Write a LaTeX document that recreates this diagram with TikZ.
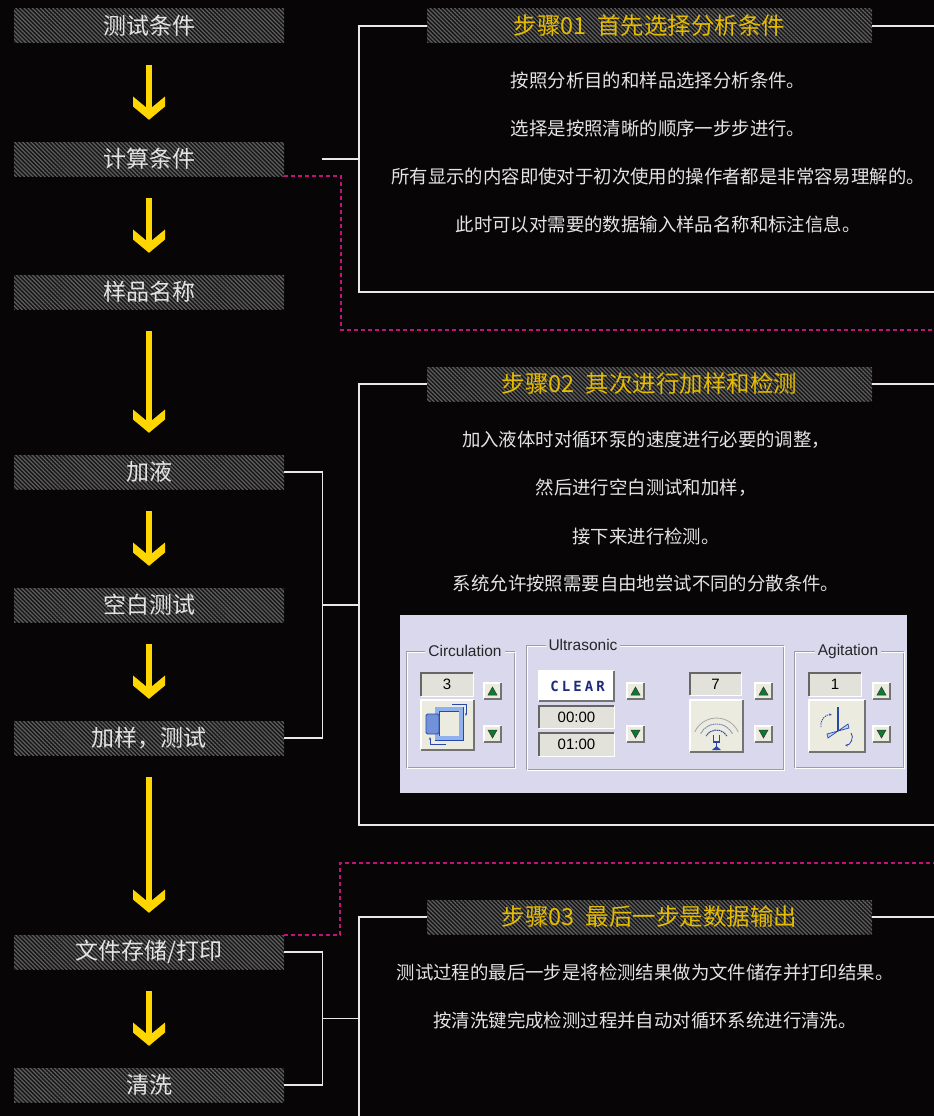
\documentclass[tikz,border=0pt]{standalone}
\usepackage{fontspec}
\setmainfont{Liberation Sans}
\newfontfamily\cjk{Noto Sans CJK SC}
\newfontfamily\clearfont[LetterSpace=22]{DejaVu Sans Mono}
\usetikzlibrary{patterns,patterns.meta,calc,arrows.meta}
\definecolor{bg}{HTML}{070506}
\definecolor{hatch}{HTML}{5E5E5E}
\definecolor{hatchbg}{HTML}{161616}
\definecolor{txt}{HTML}{E4E4E4}
\definecolor{gold}{HTML}{E6BC00}
\definecolor{arrowy}{HTML}{FFD600}
\definecolor{mag}{HTML}{C0137A}
\definecolor{wl}{HTML}{E8E8E8}
\definecolor{ui}{HTML}{D9D8EC}
\definecolor{fieldc}{HTML}{E2E1DA}
\definecolor{btnc}{HTML}{ECEBE0}
\definecolor{etch}{HTML}{9C9CA6}
\definecolor{tri}{HTML}{0C7A30}
\definecolor{icdark}{HTML}{2A47A8}
\definecolor{iclight}{HTML}{8FB2EE}
\definecolor{navy}{HTML}{1C2A7A}
\newcommand\uibtn[4]{%
  \fill[btnc] ({#1},{-(#2)}) rectangle ({#3},{-(#4)});
  \draw[white, line width=1.2pt] ({#1},{-(#4)}) -- ({#1},{-(#2)}) -- ({#3},{-(#2)});
  \draw[black!55, line width=1.2pt] ({#3},{-(#2)}) -- ({#3},{-(#4)}) -- ({#1},{-(#4)});}
\newcommand\uifield[6]{%
  \fill[fieldc] ({#1},{-(#2)}) rectangle ({#3},{-(#4)});
  \draw[black!60, line width=1.2pt] ({#1},{-(#4)}) -- ({#1},{-(#2)}) -- ({#3},{-(#2)});
  \draw[white, line width=1pt] ({#3},{-(#2)}) -- ({#3},{-(#4)}) -- ({#1},{-(#4)});
  \node[uitext] (#5) at ({(#1+#3)/2},{-(#2+#4)/2}) {#6};}
\newcommand\uiup[2]{%
  \uibtn{#1}{#2}{#1+17}{#2+16}
  \filldraw[tri, draw=black!80, line width=0.5pt] ({#1+8.5},{-(#2)-4}) -- ({#1+4},{-(#2)-12}) -- ({#1+13},{-(#2)-12}) -- cycle;}
\newcommand\uidown[2]{%
  \uibtn{#1}{#2}{#1+17}{#2+16}
  \filldraw[tri, draw=black!80, line width=0.5pt] ({#1+8.5},{-(#2)-12}) -- ({#1+4},{-(#2)-4}) -- ({#1+13},{-(#2)-4}) -- cycle;}
\newcommand\uigroup[7]{%
  \draw[etch, line width=1pt] ({#1},{-(#2)}) rectangle ({#3},{-(#4)});
  \draw[white, line width=1pt] ({#1+1},{-(#2)-1}) rectangle ({#3+1},{-(#4)-1});
  \node[uilabel] (#6) at ({#5},{-(#2)}) {#7};}
\newcommand\flowarrow[2]{%
  \coordinate (fs) at ($(#1.south)+(0,-22)$);
  \coordinate (fe) at ($(#2.north)+(0,22)$);
  \fill[arrowy] ($(fs)+(-2.9,0)$) rectangle ($(fe)+(2.9,5)$);
  \fill[arrowy] (fe) -- ++(-16,13.3) -- ++(0,10) -- ($(fe)+(0,10)$) -- ($(fe)+(16,23.3)$) -- ++(0,-10) -- cycle;}
\begin{document}
\begin{tikzpicture}[x=1pt,y=1pt,
  hatched/.style={inner sep=0pt, fill=hatchbg,
    postaction={pattern={Lines[angle=-45,distance=2.9pt,line width=1.25pt]}, pattern color=hatch}},
  leftbox/.style={hatched, minimum width=270pt, minimum height=34pt, text=txt,
    font=\cjk\fontsize{23}{23}\selectfont},
  banner/.style={hatched, minimum width=445pt, minimum height=34pt, text=gold,
    font=\cjk\fontsize{23.5}{24}\selectfont},
  body/.style={text=txt, inner sep=0pt, font=\cjk\fontsize{18.4}{20}\selectfont},
  wline/.style={draw=wl, line width=1.4pt},
  magdash/.style={draw=mag, line width=1.7pt, dash pattern=on 4pt off 3pt},
  uitext/.style={inner sep=0pt, text=black, font=\fontsize{15}{15}\selectfont},
  uilabel/.style={fill=ui, inner xsep=3pt, inner ysep=1pt, text=black!85, font=\fontsize{15.5}{15.5}\selectfont}]
\useasboundingbox (0,0) rectangle (934,-1116);
\fill[bg] (0,0) rectangle (934,-1116);
\clip (0,0) rectangle (934,-1116);

% left flow boxes
\node[leftbox] (n1) at (149,-26) {测试条件};
\node[leftbox] (n2) at (149,-159) {计算条件};
\node[leftbox] (n3) at (149,-292) {样品名称};
\node[leftbox] (n4) at (149,-472) {加液};
\node[leftbox] (n5) at (149,-605) {空白测试};
\node[leftbox] (n6) at (149,-738) {加样，测试};
\node[leftbox] (n7) at (149,-952) {文件存储/打印};
\node[leftbox] (n8) at (149,-1085) {清洗};

\flowarrow{n1}{n2}
\flowarrow{n2}{n3}
\flowarrow{n3}{n4}
\flowarrow{n4}{n5}
\flowarrow{n5}{n6}
\flowarrow{n6}{n7}
\flowarrow{n7}{n8}

% banners
\node[banner] (t1) at (649.5,-26) {步骤01\hspace{0.45em}首先选择分析条件};
\node[banner] (t2) at (649.5,-384) {步骤02\hspace{0.45em}其次进行加样和检测};
\node[banner] (t3) at (649.5,-917) {步骤03\hspace{0.45em}最后一步是数据输出};

% panel frames
\draw[wline] (t1.west) -- (359,-26) -- (359,-292) -- (940,-292);
\draw[wline] (t1.east) -- (940,-26);
\draw[wline] (t2.west) -- (359,-384) -- (359,-825) -- (940,-825);
\draw[wline] (t2.east) -- (940,-384);
\draw[wline] (t3.west) -- (359,-917) -- (359,-1125);
\draw[wline] (t3.east) -- (940,-917);

% connectors
\draw[wline] ([xshift=38pt]n2.east) -- ++(37,0);
\draw[wline] (n4.east) -- ++(38,0) |- (n6.east);
\draw[wline] ([xshift=38pt]n5.east) -- ++(37,0);
\draw[wline] (n7.east) -- ++(38,0) |- (n8.east);
\draw[wline] ($(n7.east)!0.5!(n8.east)+(38,0)$) -- ++(37,0);

\draw[magdash] (n2.south east) -- ++(57,0) |- (940,-330);
\draw[magdash] (n7.north east) -- ++(56,0) |- (940,-863);

% panel texts
\node[body] (p1a) at (658,-81) {按照分析目的和样品选择分析条件。};
\node[body] (p1b) at (658,-129) {选择是按照清晰的顺序一步步进行。};
\node[body] (p1c) at (658,-176) {所有显示的内容即使对于初次使用的操作者都是非常容易理解的。};
\node[body] (p1d) at (658,-224) {此时可以对需要的数据输入样品名称和标注信息。};

\node[body] (p2a) at (646,-440) {加入液体时对循环泵的速度进行必要的调整，};
\node[body] (p2b) at (646,-488) {然后进行空白测试和加样，};
\node[body] (p2c) at (646,-536) {接下来进行检测。};
\node[body] (p2d) at (646,-583) {系统允许按照需要自由地尝试不同的分散条件。};

\node[body] (p3a) at (645,-972) {测试过程的最后一步是将检测结果做为文件储存并打印结果。};
\node[body] (p3b) at (645,-1020) {按清洗键完成检测过程并自动对循环系统进行清洗。};

% control panel screenshot
\fill[ui] (400,-615) rectangle (907,-793);
\uigroup{406}{651}{514}{767}{465}{gc}{Circulation}
\uigroup{526}{645}{783}{769}{583}{gu}{Ultrasonic}
\uigroup{794}{651}{903}{767}{848}{ga}{Agitation}

% circulation
\uifield{421}{673}{473}{696}{fc}{3}
\uibtn{421}{700}{474}{750}
\draw[icdark, line width=0.9pt, double=iclight, double distance=3.2pt] (437,-709) rectangle (461,-738);
\filldraw[fill=iclight!70!icdark, draw=icdark, line width=0.8pt, rounded corners=1.5pt] (426,-714) rectangle (439,-734);
\draw[icdark, line width=0.8pt, -{Stealth[length=3pt]}] (452,-704) -- (466,-704) -- (466,-716);
\draw[icdark, line width=0.8pt, -{Stealth[length=3pt]}] (446,-744) -- (430,-744) -- (430,-737);
\uiup{484}{683}
\uidown{484}{726}

% ultrasonic
\uibtn{539}{671}{614}{701}
\fill[white] (540,-672) rectangle (613,-700);
\node[text=navy, inner sep=0pt, font=\clearfont\bfseries\fontsize{14}{14}\selectfont] (clr) at (577.5,-686) {CLEAR};
\uifield{539}{706}{614}{728}{ft1}{00:00}
\uifield{539}{733}{614}{756}{ft2}{01:00}
\uiup{627}{683}
\uidown{627}{726}
\uifield{690}{673}{741}{695}{fu}{7}
\uibtn{690}{700}{743}{752}
\draw[black!35, line width=0.8pt] (716.5,-742) ++(25:24) arc[start angle=25, end angle=155, radius=24];
\draw[icdark!70, line width=0.9pt, dash pattern=on 1.5pt off 0.7pt] (716.5,-742) ++(28:18) arc[start angle=28, end angle=152, radius=18];
\draw[icdark, line width=1pt, dash pattern=on 1.5pt off 0.7pt] (716.5,-742) ++(30:12) arc[start angle=30, end angle=150, radius=12];
\draw[icdark, line width=1.1pt] (713.5,-735) -- (713.5,-742) -- (719.5,-742) -- (719.5,-735);
\draw[icdark, line width=1.1pt] (716.5,-742) -- (716.5,-748);
\fill[icdark] (712,-750) -- (721,-750) -- (716.5,-746) -- cycle;
\uiup{755}{683}
\uidown{755}{726}

% agitation
\uifield{809}{673}{861}{696}{fa}{1}
\uibtn{809}{700}{865}{752}
\draw[icdark, line width=1.8pt] (838,-707) -- (838,-731);
\filldraw[fill=iclight!60, draw=icdark, line width=0.7pt] (838,-731) -- (828,-738) -- (827,-734) -- cycle;
\filldraw[fill=iclight!60, draw=icdark, line width=0.7pt] (838,-731) -- (848,-724) -- (849,-728) -- cycle;
\draw[icdark, line width=0.8pt, -{Stealth[length=3pt]}, dash pattern=on 1.5pt off 0.8pt] (821,-727) to[bend left=60] (832,-715);
\draw[icdark, line width=0.8pt, -{Stealth[length=3pt]}] (851,-733) to[bend left=70] (845,-745);
\uiup{873}{683}
\uidown{873}{726}
\end{tikzpicture}
\end{document}
